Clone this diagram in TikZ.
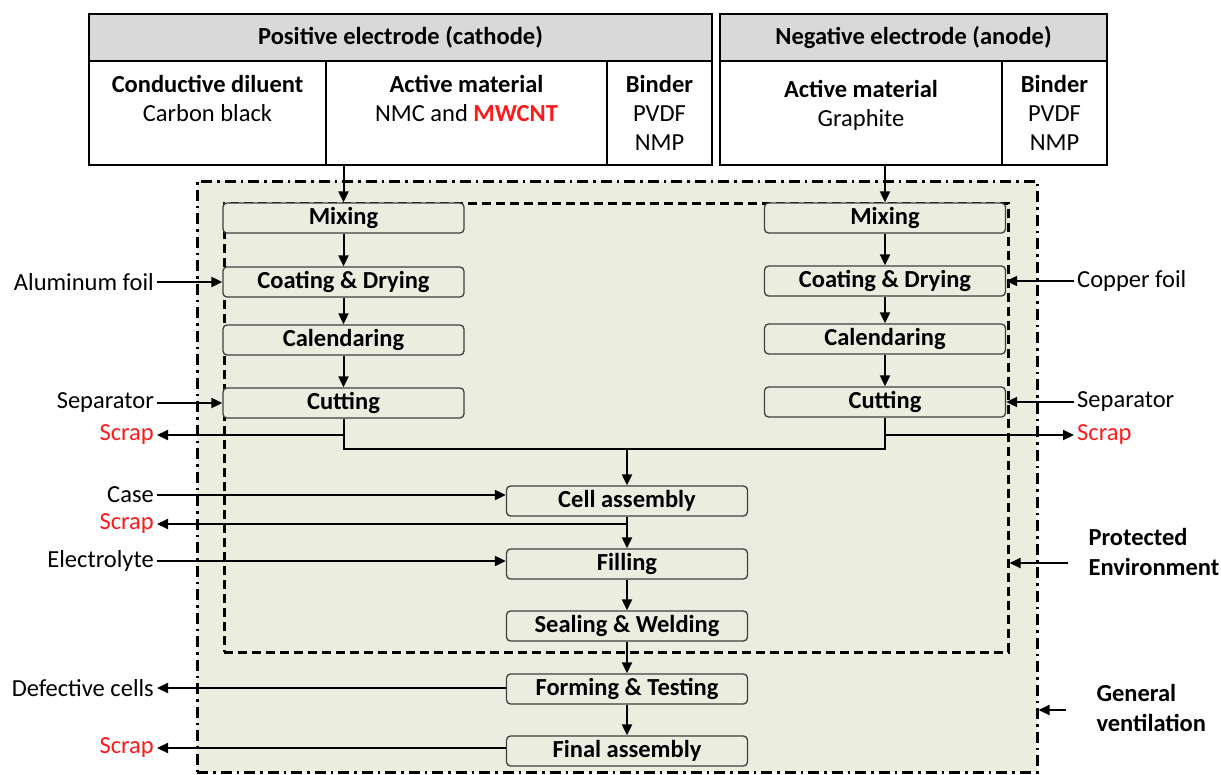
\documentclass[tikz,border=0pt]{standalone}
\usepackage{fontspec}
\setmainfont{Carlito}
\usetikzlibrary{arrows.meta,positioning,calc}

\definecolor{envgreen}{HTML}{EBEEDF}
\definecolor{hdrgray}{HTML}{D9D9D9}
\definecolor{scrapred}{HTML}{FF1A1A}

\tikzset{
    every node/.style={font=\fontsize{24.5}{29}\selectfont},
    arr/.style={line width=2pt,-{Triangle[length=11pt,width=10pt]}},
    link/.style={line width=2pt},
    hdr/.style={draw,line width=2pt,fill=hdrgray,minimum height=47pt,font=\fontsize{24.5}{29}\selectfont\bfseries},
    cell/.style={draw,line width=2pt,fill=white,minimum height=104pt},
    celltxt/.style={align=center,anchor=north,inner sep=0pt},
    proc/.style={draw=black!75,line width=1.3pt,rounded corners=4pt,fill=envgreen,minimum height=30pt,minimum width=241pt,inner sep=1pt,font=\fontsize{24.5}{29}\selectfont\bfseries},
    lbl/.style={anchor=east,inner sep=3pt},
    rlbl/.style={anchor=west,inner sep=3pt},
    scrap/.style={text=scrapred},
    envlbl/.style={anchor=west,align=left,font=\fontsize{24.5}{30}\selectfont\bfseries},
}

\begin{document}
\begin{tikzpicture}[x=1pt,y=-1pt]
    \useasboundingbox (0,0) rectangle (1221,774);
    % Environments
    \node[fill=envgreen,draw,line width=3pt,dash pattern=on 11pt off 5pt on 2.5pt off 5pt,minimum width=840pt,minimum height=591pt] (genbox) at (617,476.5) {};
    \node[draw,line width=3pt,dash pattern=on 9pt off 5pt,minimum width=784pt,minimum height=449pt] (protbox) at (616,427.5) {};
    % Cathode table
    \node[hdr,minimum width=623pt] (poshdr) at (400.5,37.5) {Positive electrode (cathode)};
    \node[cell,minimum width=237pt] (dil) at (207.5,113) {};
    \node[cell,minimum width=281pt] (act) at (466.5,113) {};
    \node[cell,minimum width=105pt] (bind) at (659.5,113) {};
    \node[celltxt] (diltxt) at (207.5,75) {\textbf{Conductive diluent}\\Carbon black};
    \node[celltxt] (acttxt) at (466.5,75) {\textbf{Active material}\\NMC and \textcolor{scrapred}{\textbf{MWCNT}}};
    \node[celltxt] (bindtxt) at (659.5,75) {\textbf{Binder}\\PVDF\\NMP};
    % Anode table
    \node[hdr,minimum width=387pt] (neghdr) at (913.5,37.5) {Negative electrode (anode)};
    \node[cell,minimum width=282pt] (anact) at (861,113) {};
    \node[cell,minimum width=105pt] (anbind) at (1054.5,113) {};
    \node[celltxt] (anacttxt) at (861,80) {\textbf{Active material}\\Graphite};
    \node[celltxt] (anbindtxt) at (1054.5,75) {\textbf{Binder}\\PVDF\\NMP};
    % Cathode line
    \node[proc] (mixL) at (343.5,218) {Mixing};
    \node[proc] (coatL) at (343.5,282) {Coating \& Drying};
    \node[proc] (calL) at (343.5,340) {Calendaring};
    \node[proc] (cutL) at (343.5,403) {Cutting};
    % Anode line
    \node[proc] (mixR) at (885,218) {Mixing};
    \node[proc] (coatR) at (885,281) {Coating \& Drying};
    \node[proc] (calR) at (885,339) {Calendaring};
    \node[proc] (cutR) at (885,402) {Cutting};
    % Cell line
    \node[proc] (cella) at (627,501) {Cell assembly};
    \node[proc] (fill) at (627,564) {Filling};
    \node[proc] (seal) at (627,626) {Sealing \& Welding};
    \node[proc] (form) at (627,689) {Forming \& Testing};
    \node[proc] (final) at (627,751) {Final assembly};
    % Flow
    \draw[arr] (act.south -| mixL.north) -- (mixL.north);
    \draw[arr] (anact.south -| mixR.north) -- (mixR.north);
    \draw[arr] (mixL) -- (coatL);
    \draw[arr] (coatL) -- (calL);
    \draw[arr] (calL) -- (cutL);
    \draw[arr] (mixR) -- (coatR);
    \draw[arr] (coatR) -- (calR);
    \draw[arr] (calR) -- (cutR);
    \coordinate (merge) at (627,449);
    \draw[link] (cutL.south) |- (merge) -| (cutR.south);
    \draw[arr] (merge) -- (cella.north);
    \draw[arr] (cella) -- (fill);
    \draw[arr] (fill) -- (seal);
    \draw[arr] (seal) -- (form);
    \draw[arr] (form) -- (final);
    % Inputs and outputs, left
    \node[lbl] (alu) at (157,282) {Aluminum foil};
    \node[lbl] (sepL) at (157,403) {Separator};
    \node[lbl,scrap] (scrapA) at (157,435) {Scrap};
    \node[lbl] (case) at (157,495) {Case};
    \node[lbl,scrap] (scrapC) at (157,524) {Scrap};
    \node[lbl] (elec) at (157,561) {Electrolyte};
    \node[lbl] (defect) at (157,688) {Defective cells};
    \node[lbl,scrap] (scrapD) at (157,748) {Scrap};
    \draw[arr] (alu.east) -- (coatL.west);
    \draw[arr] (sepL.east) -- (cutL.west);
    \draw[arr] (scrapA.east -| cutL.south) -- (scrapA.east);
    \draw[arr] (case.east) -- (case.east -| cella.west);
    \draw[arr] (scrapC.east -| cella.south) -- (scrapC.east);
    \draw[arr] (elec.east) -- (elec.east -| fill.west);
    \draw[arr] (defect.east -| form.west) -- (defect.east);
    \draw[arr] (scrapD.east -| final.west) -- (scrapD.east);
    % Inputs and outputs, right
    \node[rlbl] (cu) at (1074,281) {Copper foil};
    \node[rlbl] (sepR) at (1074,402) {Separator};
    \node[rlbl,scrap] (scrapB) at (1074,435) {Scrap};
    \draw[arr] (cu.west) -- (coatR.east);
    \draw[arr] (sepR.west) -- (cutR.east);
    \draw[arr] (scrapB.west -| cutR.south) -- (scrapB.west);
    % Environment labels
    \node[envlbl] (protlbl) at (1085,552) {Protected\\Environment};
    \node[envlbl] (genlbl) at (1093,708) {General\\ventilation};
    \coordinate (protin) at (1068,563);
    \coordinate (genin) at (1066,710);
    \draw[arr] (protin) -- (protin -| protbox.east);
    \draw[arr] (genin) -- (genin -| genbox.east);
\end{tikzpicture}
\end{document}
